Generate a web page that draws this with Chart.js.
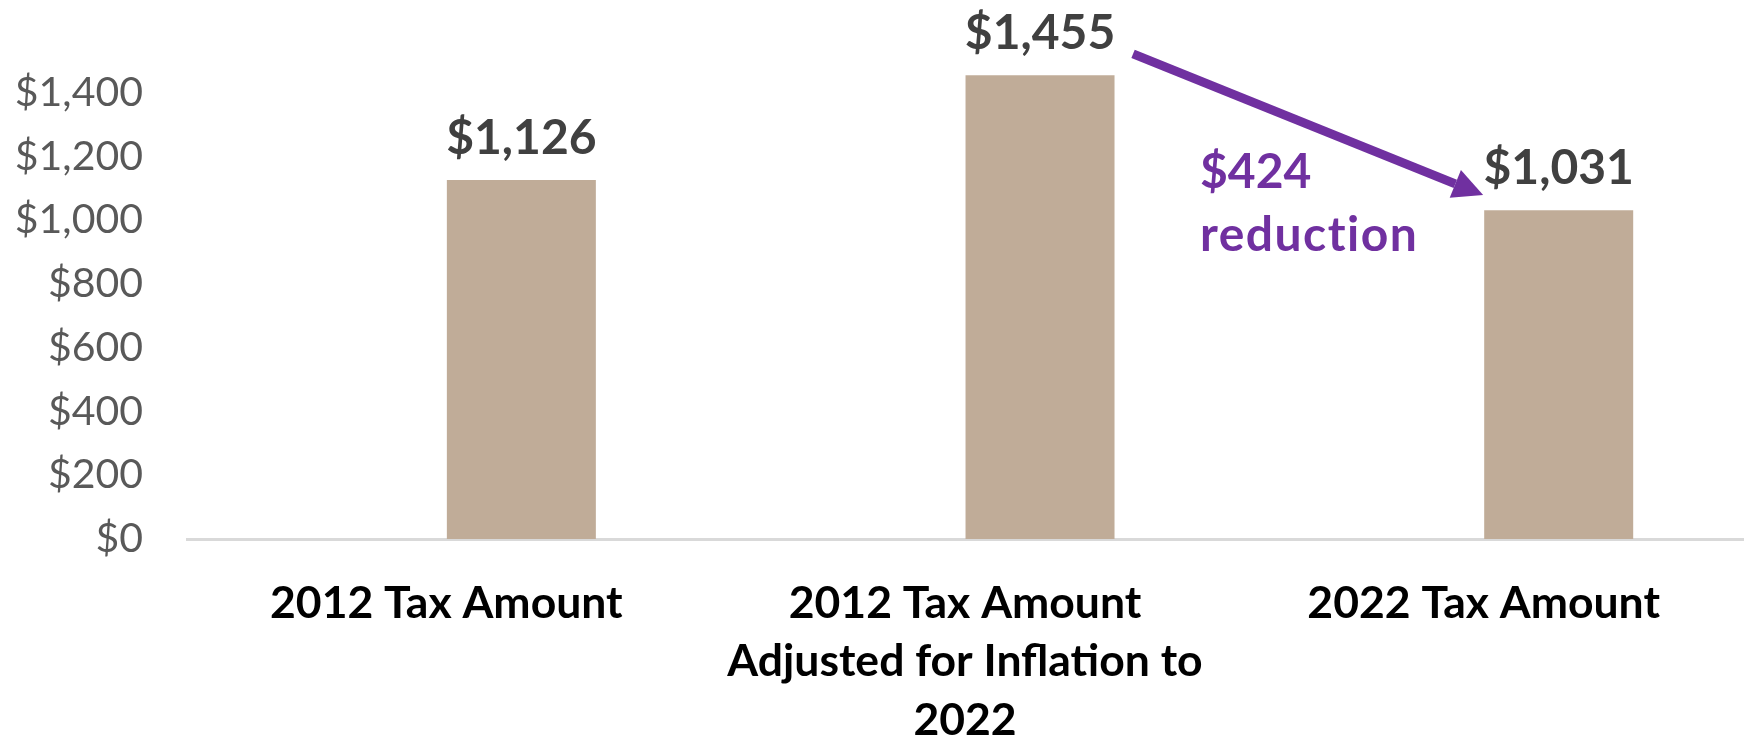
<!DOCTYPE html>
<html>
<head>
<meta charset="utf-8">
<script src="https://cdn.jsdelivr.net/npm/chart.js@4.4.1/dist/chart.umd.min.js"></script>
<style>
  html, body { margin: 0; padding: 0; background: #ffffff; }
  #wrap { width: 1750px; height: 737px; position: relative; }
</style>
</head>
<body>
<div id="wrap"><canvas id="chart" width="1750" height="737"></canvas></div>
<script>
// Category labels (one entry per category, split into display lines)
const categories = [
  ['2012 Tax Amount'],
  ['2012 Tax Amount', 'Adjusted for Inflation to', '2022'],
  ['2022 Tax Amount']
];
// Tax amounts in dollars
const taxValues = [1126, 1455, 1031];
// Empty companion series that holds the first slot of each category
const blankValues = [null, null, null];
// Y-axis tick values
const yTickValues = [0, 200, 400, 600, 800, 1000, 1200, 1400];

const money = v => '$' + v.toLocaleString('en-US');
const FONT = 'Lato, "Open Sans", sans-serif';

// Value labels above each bar
const barLabels = {
  id: 'barLabels',
  afterDatasetsDraw(chart) {
    const ctx = chart.ctx;
    const meta = chart.getDatasetMeta(1);
    ctx.save();
    ctx.font = 'bold 48px ' + FONT;
    ctx.fillStyle = '#404040';
    ctx.textAlign = 'center';
    ctx.textBaseline = 'alphabetic';
    meta.data.forEach((bar, i) => {
      ctx.fillText(money(taxValues[i]), bar.x, bar.y - 26);
    });
    ctx.restore();
  }
};

// Arrow and note showing the drop from the inflation-adjusted amount to the 2022 amount
const reductionNote = {
  id: 'reductionNote',
  afterDatasetsDraw(chart) {
    const { ctx, scales: { x, y } } = chart;
    const diff = taxValues[1] - taxValues[2];
    const x0 = x.getPixelForValue(1.324), y0 = y.getPixelForValue(1522);
    const x1 = x.getPixelForValue(1.999), y1 = y.getPixelForValue(1079);
    const ang = Math.atan2(y1 - y0, x1 - x0);
    const headLen = 30, headHalf = 15;
    const bx = x1 - headLen * Math.cos(ang), by = y1 - headLen * Math.sin(ang);
    ctx.save();
    ctx.strokeStyle = '#7030A0';
    ctx.fillStyle = '#7030A0';
    ctx.lineWidth = 9;
    ctx.beginPath();
    ctx.moveTo(x0, y0);
    ctx.lineTo(bx, by);
    ctx.stroke();
    ctx.beginPath();
    ctx.moveTo(x1, y1);
    ctx.lineTo(bx + headHalf * Math.sin(ang), by - headHalf * Math.cos(ang));
    ctx.lineTo(bx - headHalf * Math.sin(ang), by + headHalf * Math.cos(ang));
    ctx.closePath();
    ctx.fill();

    ctx.font = 'bold 48px ' + FONT;
    ctx.textAlign = 'left';
    ctx.textBaseline = 'alphabetic';
    const tx = x.getPixelForValue(1.453);
    const ty = y.getPixelForValue(1101);
    ctx.fillText(money(diff), tx, ty);
    ctx.letterSpacing = '1.5px';
    ctx.fillText('reduction', tx, ty + 63);
    ctx.restore();
  }
};

new Chart(document.getElementById('chart'), {
  type: 'bar',
  data: {
    labels: categories,
    datasets: [
      { label: 'blank', data: blankValues, backgroundColor: 'rgba(0,0,0,0)' },
      { label: 'Tax Amount', data: taxValues, backgroundColor: '#C0AC98' }
    ]
  },
  options: {
    responsive: false,
    animation: false,
    events: [],
    layout: { padding: { top: 29, left: 0, right: 7, bottom: 0 } },
    datasets: {
      bar: { categoryPercentage: 0.5786, barPercentage: 0.993, borderWidth: 0 }
    },
    plugins: {
      legend: { display: false },
      tooltip: { enabled: false },
      title: { display: false }
    },
    scales: {
      x: {
        grid: { display: false, drawTicks: false },
        border: { display: true, color: '#D9D9D9', width: 3 },
        afterFit(scale) {
          scale.height = 198;
          scale.paddingLeft = 0;
          scale.paddingRight = 0;
        },
        ticks: {
          autoSkip: false,
          maxRotation: 0,
          minRotation: 0,
          padding: 35,
          color: '#000000',
          font: { family: FONT, size: 44.5, weight: 'bold', lineHeight: 1.32 }
        }
      },
      y: {
        min: 0,
        max: 1600,
        grid: { display: false, drawTicks: false },
        border: { display: false },
        afterBuildTicks(scale) {
          scale.ticks = yTickValues.map(v => ({ value: v }));
        },
        afterFit(scale) {
          scale.width = 187;
          scale.paddingTop = 0;
          scale.paddingBottom = 0;
        },
        ticks: {
          padding: 44,
          color: '#595959',
          font: { family: FONT, size: 41 },
          callback: (v) => money(v)
        }
      }
    }
  },
  plugins: [barLabels, reductionNote]
});
</script>
</body>
</html>
